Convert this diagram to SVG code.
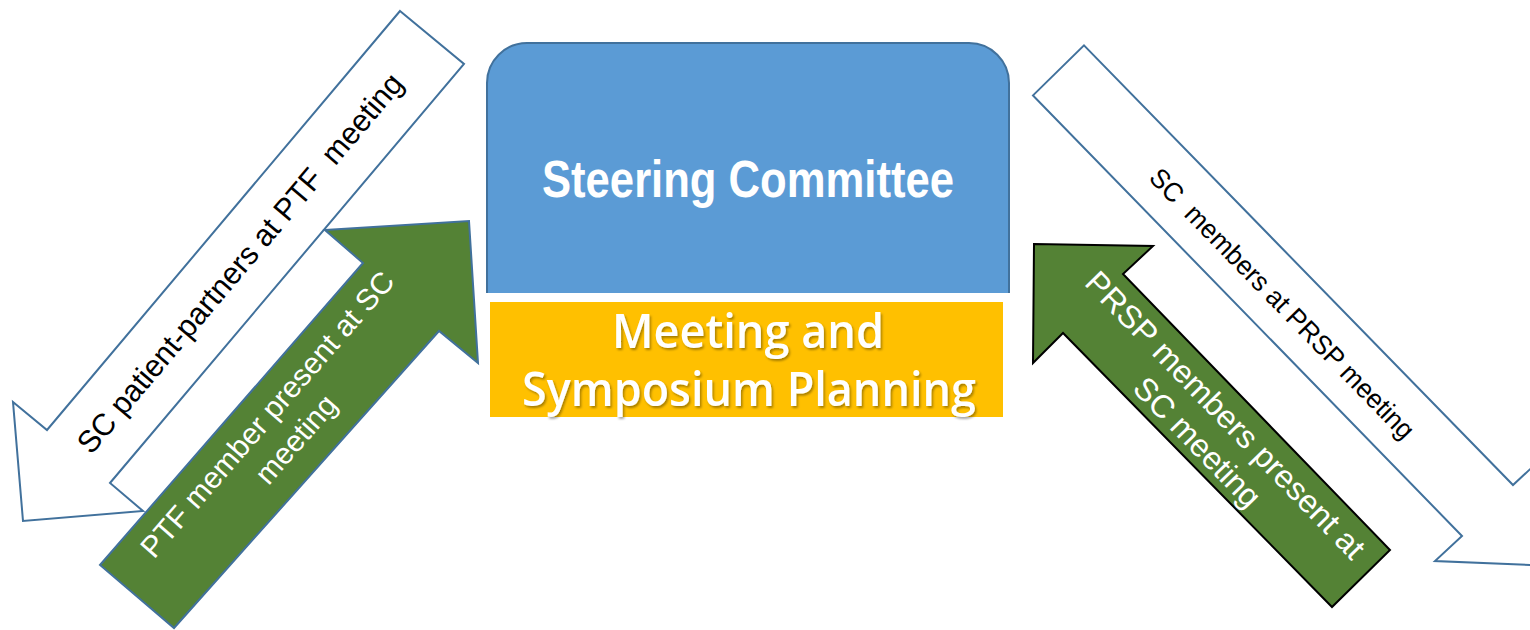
<svg xmlns="http://www.w3.org/2000/svg" width="1530" height="630" viewBox="0 0 1530 630">
<defs>
<style>
.wArrow{fill:#ffffff;stroke:#41719C;stroke-width:2;stroke-linejoin:miter}
.gArrowB{fill:#548235;stroke:#41719C;stroke-width:2;stroke-linejoin:miter}
.gArrowK{fill:#548235;stroke:#000000;stroke-width:2;stroke-linejoin:miter}
.lblDark{font-family:"Liberation Sans",Arial,sans-serif;fill:#000000;text-anchor:middle}
.lblLight{font-family:"Liberation Sans",Arial,sans-serif;fill:#ffffff;text-anchor:middle}
.title{font-family:"Liberation Sans Narrow","Liberation Sans",Arial,sans-serif;font-weight:bold;fill:#ffffff;text-anchor:middle}
.plan{font-family:"Open Sans","Noto Sans",sans-serif;font-weight:600;fill:#ffffff;text-anchor:middle}
</style>
<filter id="shadow" x="-10%" y="-30%" width="120%" height="160%">
<feDropShadow dx="1.5" dy="2" stdDeviation="1.2" flood-color="#000000" flood-opacity="0.35"/>
</filter>
</defs>
<rect x="0" y="0" width="1530" height="630" fill="#ffffff"/>

<g id="node-steering-committee">
<path d="M487,293 V83 A40,40 0 0 1 527,43 H969 A40,40 0 0 1 1009,83 V293 Z" fill="#5B9BD5"/>
<path d="M487,293 V83 A40,40 0 0 1 527,43 H969 A40,40 0 0 1 1009,83 V293" fill="none" stroke="#41719C" stroke-width="2"/>
<text class="title" x="748" y="197" font-size="52" textLength="412" lengthAdjust="spacingAndGlyphs">Steering Committee</text>
</g>

<g id="node-meeting-planning">
<rect x="490" y="302" width="513" height="115" fill="#FFC000"/>
<text class="plan" x="748" y="348" font-size="47" textLength="272" lengthAdjust="spacingAndGlyphs" filter="url(#shadow)">Meeting and</text>
<text class="plan" x="749" y="406" font-size="47" textLength="454" lengthAdjust="spacingAndGlyphs" filter="url(#shadow)">Symposium Planning</text>
</g>

<g id="connectors">
<g id="arrow-sc-to-ptf">
<polygon class="wArrow" points="400,11 464,64 110,483 143,511 23,521 13,402 47,430"/>
<text class="lblDark" xml:space="preserve" style="white-space:pre" font-size="31" textLength="486" lengthAdjust="spacingAndGlyphs" transform="translate(248,270) rotate(-49.8)" x="0" y="0">SC patient-partners at PTF  meeting</text>
</g>
<g id="arrow-ptf-to-sc">
<polygon class="gArrowB" points="325,230 469,221 478,363 439,331 174,628 100,565 363,263"/>
<g transform="rotate(-48.9 275 421)">
<text class="lblLight" x="275" y="421" font-size="30" textLength="368" lengthAdjust="spacingAndGlyphs">PTF member present at SC</text>
<text class="lblLight" x="275" y="459" font-size="30">meeting</text>
</g>
</g>
<g id="arrow-sc-to-prsp">
<polygon class="wArrow" points="1084,45.4 1513,485 1540,460 1556,566 1435,561 1462,536 1033,95.4"/>
<text class="lblDark" xml:space="preserve" style="white-space:pre" font-size="27" textLength="366" lengthAdjust="spacingAndGlyphs" transform="translate(1275.5,310) rotate(45.7)" x="0" y="0">SC  members at PRSP meeting</text>
</g>
<g id="arrow-prsp-to-sc">
<polygon class="gArrowK" points="1034,244 1153,246 1123,274 1390,550 1332,607 1063,333 1033,363"/>
<g transform="rotate(45.9 1217.5 422.7)">
<text class="lblLight" x="1217.5" y="422.7" font-size="32" textLength="386" lengthAdjust="spacingAndGlyphs">PRSP members present at</text>
<text class="lblLight" x="1217.5" y="461.7" font-size="32">SC meeting</text>
</g>
</g>
</g>
</svg>
